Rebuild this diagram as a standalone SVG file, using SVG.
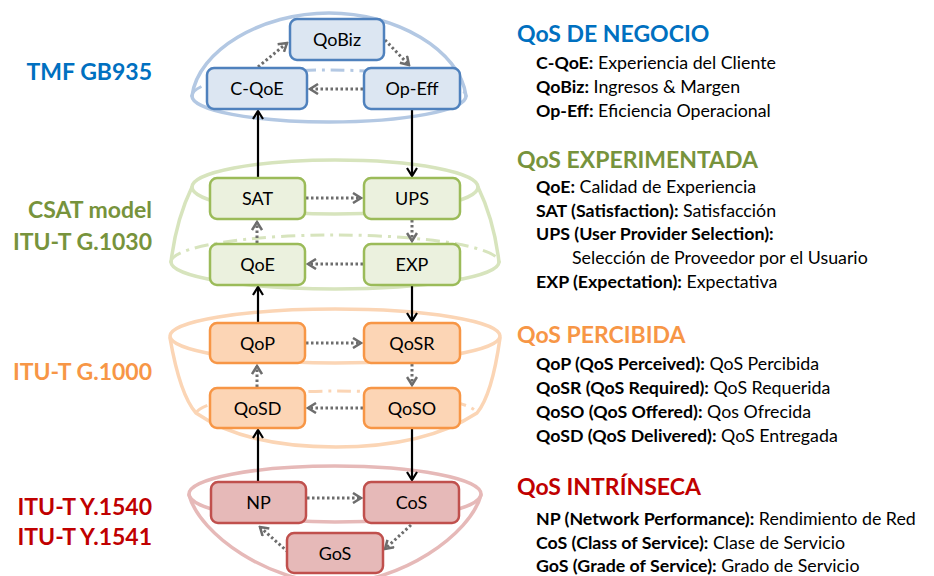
<svg xmlns="http://www.w3.org/2000/svg" width="934" height="576" viewBox="0 0 934 576">
<style>
.bg{fill:#fff}
.shp{fill:none;stroke-width:3.5;stroke-linecap:round}
.back{fill:none;stroke-width:3;stroke-dasharray:14 6 3 6}
.sb{stroke:#b3c8e3}.sg{stroke:#d7e4bd}.so{stroke:#fbd5b5}.sr{stroke:#e6b9b8}
.node rect{stroke-width:2.5}
.nb rect{fill:#dce6f2;stroke:#4f81bd}
.ng rect{fill:#ebf1de;stroke:#9bbb59}
.no rect{fill:#fcd5b5;stroke:#f79646}
.nr rect{fill:#e6b9b8;stroke:#c0504d}
.node text{font-family:Lato,"Open Sans","Liberation Sans",sans-serif;font-size:18px;fill:#000;text-anchor:middle}
.solid{fill:none;stroke:#000;stroke-width:2.2}
.dot{fill:none;stroke:#6d6d6d;stroke-width:3;stroke-dasharray:2.5 2.5}
.lbl{font-family:Lato,"Open Sans","Liberation Sans",sans-serif;font-size:23px;font-weight:bold;text-anchor:end}
.hd{font-family:Lato,"Open Sans","Liberation Sans",sans-serif;font-size:23px;font-weight:bold}
.it{font-family:Lato,"Open Sans","Liberation Sans",sans-serif;font-size:17.8px;fill:#000}
.it .b{font-weight:bold}
.cb{fill:#0070c0}.cg{fill:#77933c}.co{fill:#f79646}.cr{fill:#c00000}
</style>
<defs>
<marker id="ak" viewBox="0 0 12 12" refX="10" refY="6" markerWidth="12" markerHeight="12" markerUnits="userSpaceOnUse" orient="auto">
<path d="M2,1 L10,6 L2,11" fill="none" stroke="#000" stroke-width="2.2"/>
</marker>
<marker id="ag" viewBox="0 0 12 12" refX="10" refY="6" markerWidth="12" markerHeight="12" markerUnits="userSpaceOnUse" orient="auto">
<path d="M2,1 L10,6 L2,11" fill="none" stroke="#6d6d6d" stroke-width="2.5"/>
</marker>
</defs>
<rect class="bg" x="0" y="0" width="934" height="576"/>

<g id="shapes">
<!-- blue dome -->
<path class="back sb" d="M192,96 A137,26 0 0 1 466,96"/>
<path class="shp sb" d="M192,96 A137,26 0 0 0 466,96"/>
<path class="shp sb" d="M192,96 C198,50 262,13 329,13 C396,13 460,50 466,96"/>
<!-- green cushion -->
<path class="back sg" d="M171,262 A164,27 0 0 1 499,262"/>
<path class="shp sg" d="M171,262 A164,27 0 0 0 499,262"/>
<ellipse class="shp sg" cx="335" cy="187" rx="143" ry="27"/>
<path class="shp sg" d="M192,187 Q176,220 171,262"/>
<path class="shp sg" d="M478,187 Q494,220 499,262"/>
<!-- orange bowl -->
<path class="back so" d="M196,413 A141,24 0 0 1 477,413"/>
<ellipse class="shp so" cx="335" cy="336" rx="165" ry="27"/>
<path class="shp so" d="M170,338 Q180,395 196,413 Q245,447 336,447 Q425,447 477,413 Q492,395 500,338"/>
<!-- red bowl -->
<ellipse class="shp sr" cx="335" cy="494" rx="146" ry="28"/>
<path class="shp sr" d="M189,495 C200,535 270,583 335,583 C400,583 470,535 481,495"/>
</g>

<g id="connectors">
<line class="solid" x1="258" y1="178" x2="258" y2="111" marker-end="url(#ak)"/>
<line class="solid" x1="412" y1="109" x2="412" y2="176" marker-end="url(#ak)"/>
<line class="solid" x1="258" y1="323" x2="258" y2="287" marker-end="url(#ak)"/>
<line class="solid" x1="412" y1="285" x2="412" y2="321" marker-end="url(#ak)"/>
<line class="solid" x1="258" y1="482" x2="258" y2="430" marker-end="url(#ak)"/>
<line class="solid" x1="412" y1="428" x2="412" y2="480" marker-end="url(#ak)"/>

<line class="dot" x1="258" y1="67" x2="287" y2="43" marker-end="url(#ag)"/>
<line class="dot" x1="385" y1="40" x2="409" y2="65" marker-end="url(#ag)"/>
<line class="dot" x1="363" y1="89" x2="310" y2="89" marker-end="url(#ag)"/>
<line class="dot" x1="306" y1="198" x2="361" y2="198" marker-end="url(#ag)"/>
<line class="dot" x1="412" y1="220" x2="412" y2="241" marker-end="url(#ag)"/>
<line class="dot" x1="363" y1="264" x2="308" y2="264" marker-end="url(#ag)"/>
<line class="dot" x1="257" y1="243" x2="257" y2="222" marker-end="url(#ag)"/>
<line class="dot" x1="306" y1="343" x2="361" y2="343" marker-end="url(#ag)"/>
<line class="dot" x1="412" y1="364" x2="412" y2="385" marker-end="url(#ag)"/>
<line class="dot" x1="363" y1="408" x2="308" y2="408" marker-end="url(#ag)"/>
<line class="dot" x1="257" y1="387" x2="257" y2="366" marker-end="url(#ag)"/>
<line class="dot" x1="302" y1="498" x2="361" y2="498" marker-end="url(#ag)"/>
<line class="dot" x1="411" y1="525" x2="385" y2="549" marker-end="url(#ag)"/>
<line class="dot" x1="288" y1="552" x2="260" y2="527" marker-end="url(#ag)"/>
</g>

<g id="n-qobiz" class="node nb"><rect x="290" y="19" width="94" height="41" rx="7"/><text x="337" y="46">QoBiz</text></g>
<g id="n-cqoe" class="node nb"><rect x="207" y="68" width="100" height="41" rx="7"/><text x="257" y="95">C-QoE</text></g>
<g id="n-opeff" class="node nb"><rect x="364" y="68" width="96" height="41" rx="7"/><text x="412" y="95">Op-Eff</text></g>

<g id="n-sat" class="node ng"><rect x="210" y="178" width="95" height="41" rx="7"/><text x="257.5" y="205">SAT</text></g>
<g id="n-ups" class="node ng"><rect x="364" y="178" width="96" height="41" rx="7"/><text x="412" y="205">UPS</text></g>
<g id="n-qoe" class="node ng"><rect x="210" y="244" width="95" height="41" rx="7"/><text x="257.5" y="271">QoE</text></g>
<g id="n-exp" class="node ng"><rect x="364" y="244" width="96" height="41" rx="7"/><text x="412" y="271">EXP</text></g>

<g id="n-qop" class="node no"><rect x="210" y="323" width="95" height="40" rx="7"/><text x="257.5" y="349.5">QoP</text></g>
<g id="n-qosr" class="node no"><rect x="364" y="323" width="96" height="40" rx="7"/><text x="412" y="349.5">QoSR</text></g>
<g id="n-qosd" class="node no"><rect x="210" y="388" width="95" height="40" rx="7"/><text x="257.5" y="414.5">QoSD</text></g>
<g id="n-qoso" class="node no"><rect x="364" y="388" width="96" height="40" rx="7"/><text x="412" y="414.5">QoSO</text></g>

<g id="n-np" class="node nr"><rect x="211" y="482" width="95" height="41" rx="7"/><text x="258.5" y="509">NP</text></g>
<g id="n-cos" class="node nr"><rect x="364" y="482" width="95" height="41" rx="7"/><text x="411.5" y="509">CoS</text></g>
<g id="n-gos" class="node nr"><rect x="287" y="533" width="96" height="40" rx="7"/><text x="335" y="559.5">GoS</text></g>

<g id="left-labels">
<text class="lbl cb" x="152" y="80">TMF GB935</text>
<text class="lbl cg" x="152" y="218">CSAT model</text>
<text class="lbl cg" x="152" y="250">ITU-T G.1030</text>
<text class="lbl co" x="152" y="380">ITU-T G.1000</text>
<text class="lbl cr" x="152" y="515">ITU-T Y.1540</text>
<text class="lbl cr" x="152" y="545">ITU-T Y.1541</text>
</g>

<g id="legend">
<text class="hd cb" x="517" y="42">QoS DE NEGOCIO</text>
<text class="it" x="536" y="69"><tspan class="b">C-QoE:</tspan> Experiencia del Cliente</text>
<text class="it" x="536" y="93"><tspan class="b">QoBiz:</tspan> Ingresos &amp; Margen</text>
<text class="it" x="536" y="117"><tspan class="b">Op-Eff:</tspan> Eficiencia Operacional</text>

<text class="hd cg" x="517" y="168">QoS EXPERIMENTADA</text>
<text class="it" x="536" y="193"><tspan class="b">QoE:</tspan> Calidad de Experiencia</text>
<text class="it" x="536" y="217"><tspan class="b">SAT (Satisfaction):</tspan> Satisfacción</text>
<text class="it" x="536" y="240"><tspan class="b">UPS (User Provider Selection):</tspan></text>
<text class="it" x="572" y="264">Selección de Proveedor por el Usuario</text>
<text class="it" x="536" y="288"><tspan class="b">EXP (Expectation):</tspan> Expectativa</text>

<text class="hd co" x="517" y="343">QoS PERCIBIDA</text>
<text class="it" x="536" y="370"><tspan class="b">QoP (QoS Perceived):</tspan> QoS Percibida</text>
<text class="it" x="536" y="394"><tspan class="b">QoSR (QoS Required):</tspan> QoS Requerida</text>
<text class="it" x="536" y="418"><tspan class="b">QoSO (QoS Offered):</tspan> Qos Ofrecida</text>
<text class="it" x="536" y="442"><tspan class="b">QoSD (QoS Delivered):</tspan> QoS Entregada</text>

<text class="hd cr" x="517" y="495">QoS INTRÍNSECA</text>
<text class="it" x="536" y="525"><tspan class="b">NP (Network Performance):</tspan> Rendimiento de Red</text>
<text class="it" x="536" y="549"><tspan class="b">CoS (Class of Service):</tspan> Clase de Servicio</text>
<text class="it" x="536" y="572"><tspan class="b">GoS (Grade of Service):</tspan> Grado de Servicio</text>
</g>
</svg>
